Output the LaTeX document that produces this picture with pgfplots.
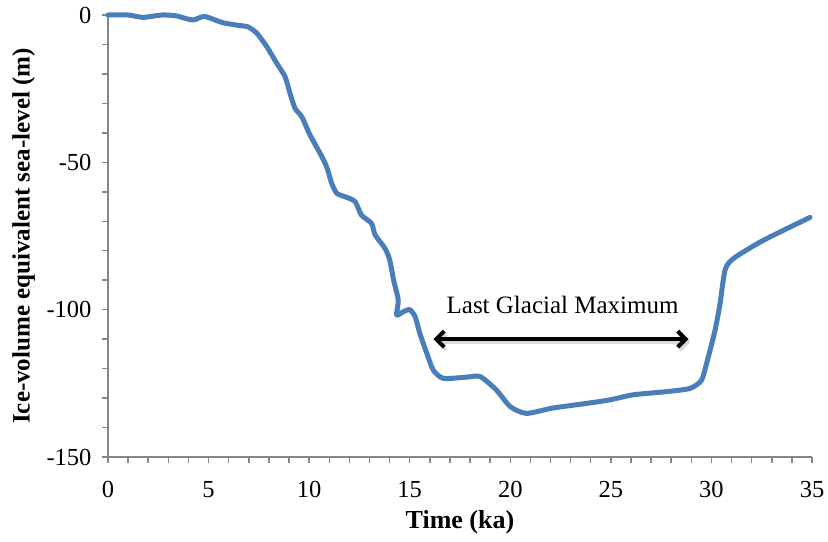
\documentclass[border=0pt]{standalone}
\usepackage{fontspec}
\setmainfont{Liberation Serif}
\usepackage{pgfplots}
\pgfplotsset{compat=1.18}
\usetikzlibrary{arrows.meta}
\definecolor{seablue}{RGB}{74,126,187}
\definecolor{axgrey}{RGB}{134,134,134}
\begin{document}
\fontsize{25bp}{29bp}\selectfont
\begin{tikzpicture}
\path[use as bounding box] (0,0) rectangle (828bp,542bp);
\begin{axis}[
  at={(108bp,85bp)}, anchor=south west,
  scale only axis, width=704bp, height=442bp,
  xmin=0, xmax=35, ymin=-150, ymax=0,
  axis x line*=bottom, axis y line*=left,
  axis line style={draw=axgrey, line width=1.5bp, -},
  xtick={0,5,...,35}, minor xtick={0,1,...,35},
  ytick={-150,-100,-50,0}, minor ytick={-150,-140,...,0},
  tick align=outside, tick style={draw=axgrey, line width=1.5bp},
  major tick length=6bp, minor tick length=6bp,
  /pgf/number format/assume math mode=true,
  ticklabel style={font=\fontsize{24.5bp}{28bp}\selectfont},
  xticklabel style={yshift=-10bp},
  yticklabel style={xshift=-2bp},
  xlabel={\textbf{Time (ka)}},
  ylabel={\textbf{Ice-volume equivalent sea-level (m)}},
  xlabel style={at={(axis description cs:0.5,-0.148)}, anchor=center, font=\fontsize{26bp}{30bp}\selectfont},
  ylabel style={at={(axis description cs:-0.12,0.5)}, anchor=center, rotate=0, font=\fontsize{25bp}{29bp}\selectfont},
  clip=false,
]
\addplot[seablue, line width=5bp, smooth, tension=0.4, line join=round, line cap=round] coordinates {
(0,0) (1,0) (1.74,-0.8) (2.7,0) (3.4,-0.3) (4.2,-1.7) (4.8,-0.5) (5.7,-2.6)
(6.56,-3.6) (6.96,-4) (7.4,-6.2) (7.9,-10.8) (8.39,-16.4) (8.8,-20.9)
(9.05,-26.6) (9.3,-31.7) (9.63,-34.5) (10.04,-40.7) (10.54,-46.9) (10.87,-51.5)
(11.12,-57.1) (11.37,-60.5) (11.79,-61.7) (12.28,-63.3) (12.6,-67.9)
(13.1,-70.7) (13.28,-74.6) (13.77,-79.2) (14.0,-83) (14.2,-90) (14.43,-96.7)
(14.35,-101.8) (14.68,-100.7) (15.0,-100) (15.27,-102.4) (15.5,-108)
(15.85,-114.8) (16.17,-120.5) (16.67,-123.3) (17.83,-122.9) (18.5,-122.7)
(19.3,-127.2) (20.0,-132.9) (20.8,-135.2) (22.1,-133.4) (23.8,-131.8)
(24.96,-130.6) (26.1,-128.9) (27.8,-127.8) (28.94,-126.7) (29.5,-124)
(29.77,-118) (30.18,-107) (30.43,-97.8) (30.68,-86.5) (31.1,-82.6)
(32.6,-76.4) (34.9,-68.7)
};
\draw[black!25, line width=4bp, {Straight Barb[length=8bp,width=16bp]}-{Straight Barb[length=8bp,width=16bp]}, opacity=0.6]
  ([xshift=2bp,yshift=-3bp]axis cs:16.18,-110) -- ([xshift=2bp,yshift=-3bp]axis cs:28.86,-110);
\draw[black, line width=4bp, {Straight Barb[length=8bp,width=16bp]}-{Straight Barb[length=8bp,width=16bp]}]
  (axis cs:16.18,-110) -- (axis cs:28.86,-110);
\node[font=\fontsize{25bp}{29bp}\selectfont] at (axis cs:22.6,-98.4) {Last Glacial Maximum};
\end{axis}
\end{tikzpicture}
\end{document}
